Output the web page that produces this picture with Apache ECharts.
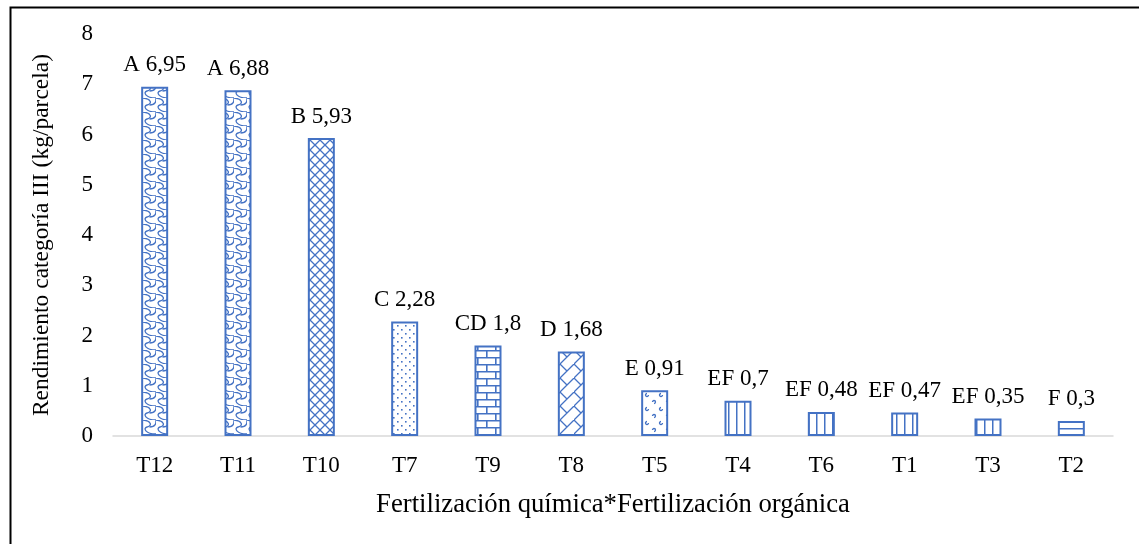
<!DOCTYPE html>
<html>
<head>
<meta charset="utf-8">
<script src="https://cdn.jsdelivr.net/npm/echarts@6/dist/echarts.min.js"></script>
<style>
  * { margin: 0; padding: 0; }
  body { background: #fff; }
  #chart { width: 1139px; height: 544px; }
</style>
</head>
<body>
<div id="chart"></div>
<script>
// datos
const categories = ["T12", "T11", "T10", "T7", "T9", "T8", "T5", "T4", "T6", "T1", "T3", "T2"];
const values = [6.95, 6.88, 5.93, 2.28, 1.8, 1.68, 0.91, 0.7, 0.48, 0.47, 0.35, 0.3];
const letters = ["A", "A", "B", "C", "CD", "D", "E", "EF", "EF", "EF", "EF", "F"];
const yTicks = [0, 1, 2, 3, 4, 5, 6, 7, 8];

// estilos
const blue = "#4472C4";
const font = "Liberation Serif";
const patternOf = {
  T12: "wave", T11: "wave", T10: "diamond", T7: "dots", T9: "bricks", T8: "diag",
  T5: "confetti", T4: "vline", T6: "vline", T1: "vline", T3: "vline", T2: "hline",
};

function makePattern(w, h, draw) {
  const c = document.createElement("canvas");
  c.width = w;
  c.height = h;
  const ctx = c.getContext("2d");
  ctx.fillStyle = "#fff";
  ctx.fillRect(0, 0, w, h);
  ctx.strokeStyle = blue;
  ctx.fillStyle = blue;
  ctx.lineWidth = 1.3;
  draw(ctx);
  return { image: c, repeat: "repeat" };
}

const patterns = {
  wave: makePattern(13, 14, (ctx) => {
    ctx.beginPath();
    ctx.moveTo(0, 0);
    ctx.bezierCurveTo(9, 1, 9, 6, 4, 7);
    ctx.bezierCurveTo(0, 8, 2, 14, 13, 14);
    ctx.stroke();
    ctx.beginPath();
    ctx.moveTo(6.5, 7);
    ctx.bezierCurveTo(13, 7, 13, 3, 13, 0);
    ctx.stroke();
  }),
  diamond: makePattern(10, 10, (ctx) => {
    ctx.beginPath();
    ctx.moveTo(0, 0); ctx.lineTo(10, 10);
    ctx.moveTo(10, 0); ctx.lineTo(0, 10);
    ctx.stroke();
  }),
  dots: makePattern(8, 8, (ctx) => {
    ctx.fillRect(1, 1, 1.6, 1.6);
    ctx.fillRect(5, 5, 1.6, 1.6);
  }),
  bricks: makePattern(18, 14, (ctx) => {
    ctx.lineWidth = 1.6;
    ctx.beginPath();
    ctx.moveTo(0, 0.8); ctx.lineTo(18, 0.8);
    ctx.moveTo(0, 7.8); ctx.lineTo(18, 7.8);
    ctx.moveTo(0.8, 0); ctx.lineTo(0.8, 7);
    ctx.moveTo(9.8, 7); ctx.lineTo(9.8, 14);
    ctx.stroke();
  }),
  diag: makePattern(14, 14, (ctx) => {
    ctx.beginPath();
    ctx.moveTo(0, 14); ctx.lineTo(14, 0);
    ctx.moveTo(0, 0); ctx.lineTo(7, 7);
    ctx.stroke();
  }),
  confetti: makePattern(14, 14, (ctx) => {
    ctx.beginPath();
    ctx.arc(3, 3, 1.5, 0, Math.PI * 1.5);
    ctx.stroke();
    ctx.beginPath();
    ctx.arc(10, 10, 1.5, Math.PI, Math.PI * 2.5);
    ctx.stroke();
  }),
  vline: makePattern(8, 4, (ctx) => {
    ctx.fillRect(0, 0, 1.5, 4);
  }),
  hline: makePattern(4, 8, (ctx) => {
    ctx.fillRect(0, 4, 4, 1.5);
  }),
};

const barData = values.map((v, i) => ({
  value: v,
  itemStyle: { color: patterns[patternOf[categories[i]]] },
}));

const chart = echarts.init(document.getElementById("chart"));
chart.setOption({
  animation: false,
  textStyle: { fontFamily: font },
  grid: { left: 113, right: 26, top: 34, bottom: 108 },
  graphic: [
    {
      type: "rect",
      left: 8, top: 5,
      shape: { width: 1200, height: 600 },
      style: { fill: "none", stroke: "#000", lineWidth: 2 },
      silent: true,
    },
  ],
  xAxis: {
    type: "category",
    data: categories,
    name: "Fertilización química*Fertilización orgánica",
    nameLocation: "middle",
    nameGap: 55,
    nameTextStyle: { fontFamily: font, fontSize: 26.7, color: "#000" },
    axisLine: { lineStyle: { color: "#d9d9d9", width: 1.5 } },
    axisTick: { show: false },
    axisLabel: { fontFamily: font, fontSize: 23, color: "#000", margin: 18 },
  },
  yAxis: {
    type: "value",
    min: yTicks[0],
    max: yTicks[yTicks.length - 1],
    interval: 1,
    name: "Rendimiento categoría III (kg/parcela)",
    nameLocation: "middle",
    nameGap: 59,
    nameTextStyle: { fontFamily: font, fontSize: 23.5, color: "#000" },
    axisLine: { show: false },
    axisTick: { show: false },
    splitLine: { show: false },
    axisLabel: { fontFamily: font, fontSize: 23, color: "#000", margin: 20 },
  },
  series: [
    {
      type: "bar",
      data: barData,
      barWidth: 27,
      itemStyle: { borderColor: blue, borderWidth: 2 },
      label: {
        show: true,
        position: "top",
        distance: 10,
        fontFamily: font,
        fontSize: 23,
        color: "#000",
        formatter: (p) => letters[p.dataIndex] + " " + String(p.value).replace(".", ","),
      },
    },
  ],
});
</script>
</body>
</html>
